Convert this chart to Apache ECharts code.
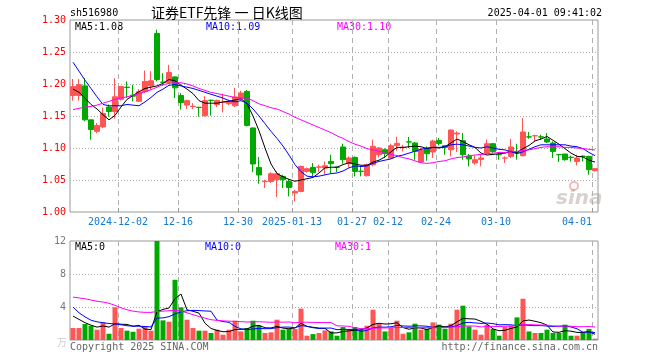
<!DOCTYPE html>
<html><head><meta charset="utf-8">
<script src="https://cdn.jsdelivr.net/npm/echarts@6/dist/echarts.min.js"></script>
<style>html,body{margin:0;padding:0;background:#fff}#c{width:660px;height:360px}</style>
</head><body><div id="c"></div>
<script>
const dates = ['2024-11-20','2024-11-21','2024-11-22','2024-11-25','2024-11-26','2024-11-27','2024-11-28','2024-11-29','2024-12-02','2024-12-03','2024-12-04','2024-12-05','2024-12-06','2024-12-09','2024-12-10','2024-12-11','2024-12-12','2024-12-13','2024-12-16','2024-12-17','2024-12-18','2024-12-19','2024-12-20','2024-12-23','2024-12-24','2024-12-25','2024-12-26','2024-12-27','2024-12-30','2024-12-31','2025-01-02','2025-01-03','2025-01-06','2025-01-07','2025-01-08','2025-01-09','2025-01-10','2025-01-13','2025-01-14','2025-01-15','2025-01-16','2025-01-17','2025-01-20','2025-01-21','2025-01-22','2025-01-23','2025-01-24','2025-01-27','2025-02-05','2025-02-06','2025-02-07','2025-02-10','2025-02-11','2025-02-12','2025-02-13','2025-02-14','2025-02-17','2025-02-18','2025-02-19','2025-02-20','2025-02-21','2025-02-24','2025-02-25','2025-02-26','2025-02-27','2025-02-28','2025-03-03','2025-03-04','2025-03-05','2025-03-06','2025-03-07','2025-03-10','2025-03-11','2025-03-12','2025-03-13','2025-03-14','2025-03-17','2025-03-18','2025-03-19','2025-03-20','2025-03-21','2025-03-24','2025-03-25','2025-03-26','2025-03-27','2025-03-28','2025-03-31','2025-04-01'];

const opens  = [1.182,1.182,1.197,1.144,1.126,1.133,1.164,1.157,1.176,1.195,1.1825,1.173,1.188,1.197,1.279,1.203,1.2025,1.211,1.182,1.167,1.1648,1.1636,1.1505,1.1746,1.1677,1.171,1.1692,1.166,1.177,1.1884,1.1313,1.0697,1.0475,1.0478,1.0505,1.0556,1.0478,1.0297,1.0322,1.0634,1.0697,1.070,1.0687,1.079,1.0698,1.1016,1.0755,1.0853,1.0637,1.0567,1.0739,1.0895,1.0973,1.0844,1.104,1.1007,1.1096,1.1078,1.0781,1.0989,1.0938,1.1119,1.1036,1.0973,1.1219,1.1114,1.0869,1.0766,1.0822,1.0922,1.1067,1.0897,1.0842,1.0869,1.0933,1.088,1.1174,1.119,1.1174,1.1141,1.1078,1.0897,1.0906,1.0855,1.079,1.0871,1.0869,1.0645];
const closes = [1.196,1.199,1.144,1.129,1.135,1.154,1.157,1.180,1.196,1.1945,1.181,1.188,1.204,1.205,1.207,1.2025,1.218,1.194,1.171,1.174,1.1652,1.1632,1.174,1.1743,1.1744,1.1715,1.1728,1.1797,1.1859,1.1353,1.075,1.0578,1.048,1.0598,1.0598,1.0505,1.0384,1.0322,1.0713,1.0677,1.0619,1.0705,1.0723,1.0755,1.0697,1.0817,1.0844,1.0634,1.0634,1.0739,1.1025,1.100,1.0911,1.1036,1.1072,1.101,1.1093,1.0947,1.0973,1.0911,1.1109,1.1072,1.101,1.1281,1.1234,1.0895,1.0828,1.0817,1.0844,1.1067,1.0947,1.0895,1.0844,1.1016,1.0931,1.125,1.1172,1.1192,1.1172,1.1094,1.0947,1.0895,1.0817,1.0853,1.0844,1.0869,1.0661,1.0677];
const lows   = [1.174,1.174,1.142,1.113,1.123,1.131,1.149,1.146,1.174,1.178,1.173,1.172,1.186,1.191,1.204,1.197,1.2016,1.178,1.160,1.161,1.161,1.149,1.149,1.1505,1.164,1.1556,1.167,1.164,1.1755,1.1337,1.062,1.0442,1.0375,1.0453,1.0234,1.0375,1.0244,1.0166,1.031,1.0615,1.0556,1.0625,1.0583,1.061,1.0625,1.0755,1.0697,1.0556,1.0556,1.0556,1.0713,1.085,1.085,1.0833,1.0958,1.0947,1.100,1.0817,1.0766,1.0802,1.0844,1.104,1.0895,1.0869,1.0938,1.0817,1.0713,1.0739,1.0713,1.0895,1.0922,1.0817,1.0766,1.0844,1.0817,1.0869,1.1145,1.1103,1.113,1.1078,1.0844,1.0781,1.0802,1.079,1.0728,1.079,1.0583,1.0634];
const highs  = [1.208,1.208,1.209,1.144,1.139,1.163,1.168,1.209,1.197,1.204,1.199,1.192,1.221,1.220,1.285,1.217,1.230,1.212,1.186,1.1755,1.170,1.1643,1.181,1.1755,1.1755,1.185,1.1755,1.194,1.1895,1.1906,1.132,1.086,1.0505,1.062,1.0634,1.0583,1.0516,1.0348,1.0725,1.0695,1.0766,1.074,1.079,1.0895,1.071,1.1067,1.087,1.0869,1.0713,1.0755,1.113,1.1016,1.0995,1.1067,1.1177,1.105,1.1172,1.1094,1.100,1.1025,1.113,1.1156,1.104,1.1291,1.126,1.1234,1.0906,1.0884,1.0895,1.113,1.1078,1.0922,1.0869,1.1141,1.1067,1.1469,1.125,1.1208,1.1208,1.1234,1.1103,1.0906,1.0906,1.088,1.0895,1.0884,1.088,1.0677];

const ma5  = [1.192,1.187,1.178,1.168,1.161,1.152,1.144,1.151,1.164,1.176,1.182,1.188,1.193,1.195,1.197,1.201,1.207,1.205,1.198,1.192,1.185,1.174,1.170,1.170,1.170,1.172,1.173,1.175,1.177,1.169,1.150,1.127,1.100,1.075,1.060,1.055,1.051,1.048,1.050,1.052,1.054,1.061,1.069,1.070,1.070,1.074,1.077,1.075,1.073,1.073,1.078,1.081,1.086,1.094,1.101,1.101,1.102,1.103,1.102,1.099,1.101,1.100,1.102,1.108,1.114,1.110,1.105,1.101,1.092,1.089,1.090,1.091,1.092,1.095,1.093,1.099,1.104,1.111,1.114,1.118,1.112,1.106,1.099,1.092,1.087,1.086,1.081,1.078];
const ma10 = [1.234,1.220,1.206,1.193,1.180,1.168,1.166,1.166,1.166,1.168,1.167,1.166,1.172,1.179,1.187,1.192,1.198,1.199,1.197,1.195,1.193,1.190,1.187,1.184,1.181,1.178,1.174,1.172,1.174,1.170,1.161,1.150,1.138,1.126,1.115,1.103,1.089,1.074,1.063,1.056,1.055,1.056,1.058,1.060,1.061,1.064,1.069,1.072,1.071,1.072,1.076,1.079,1.081,1.083,1.087,1.089,1.092,1.095,1.098,1.100,1.101,1.101,1.102,1.105,1.106,1.105,1.103,1.101,1.100,1.102,1.100,1.098,1.097,1.094,1.091,1.094,1.098,1.102,1.105,1.105,1.105,1.105,1.105,1.103,1.102,1.099,1.093,1.088];
const ma30 = [1.160,1.162,1.164,1.165,1.167,1.170,1.173,1.176,1.178,1.180,1.182,1.185,1.188,1.191,1.195,1.199,1.201,1.202,1.202,1.200,1.197,1.193,1.190,1.187,1.185,1.183,1.181,1.179,1.178,1.178,1.174,1.169,1.166,1.163,1.161,1.157,1.153,1.148,1.144,1.140,1.136,1.132,1.128,1.124,1.119,1.115,1.110,1.106,1.103,1.099,1.097,1.095,1.092,1.090,1.088,1.085,1.083,1.080,1.077,1.076,1.077,1.079,1.080,1.083,1.085,1.086,1.088,1.089,1.090,1.091,1.092,1.093,1.093,1.094,1.095,1.096,1.097,1.099,1.101,1.102,1.102,1.102,1.101,1.101,1.100,1.099,1.098,1.097];

const volumes = [1.45,1.45,1.94,1.73,1.25,2.13,0.76,3.96,1.45,1.13,1.0,1.37,1.65,1.13,12.0,2.38,2.22,7.3,3.96,2.46,1.45,1.13,1.13,0.85,1.25,0.64,1.25,2.34,1.04,1.45,2.34,1.73,0.85,0.93,2.46,1.25,1.33,1.33,3.8,0.52,0.72,0.85,1.17,1.04,0.52,1.57,1.25,1.57,1.25,1.73,3.67,1.94,1.04,1.45,2.34,0.76,0.93,1.98,1.25,1.37,2.13,1.86,1.37,1.98,3.67,4.16,1.65,1.25,0.64,1.86,1.33,0.52,1.57,1.73,2.74,5.0,1.04,0.85,0.85,1.25,0.85,0.85,1.86,0.52,0.52,0.85,1.33,0.16];
const volMa5  = [2.9,2.5,2.1,1.8,1.56,1.70,1.56,1.97,1.91,1.89,1.66,1.78,1.32,1.26,3.43,3.71,3.88,5.01,5.57,3.66,3.48,3.26,2.03,1.40,1.16,1.00,1.02,1.27,1.30,1.34,1.68,1.78,1.48,1.46,1.66,1.44,1.36,1.46,2.03,1.65,1.54,1.44,1.41,0.86,0.86,1.03,1.11,1.19,1.23,1.47,1.89,2.03,1.93,1.97,2.09,1.51,1.30,1.49,1.45,1.26,1.53,1.72,1.60,1.74,2.20,2.61,2.57,2.54,2.27,1.91,1.35,1.12,1.18,1.40,1.58,2.31,2.42,2.27,2.10,1.80,0.97,0.93,1.13,1.07,0.92,0.92,1.02,0.68];
const volMa10 = [4.0,3.3,2.8,2.4,2.2,2.1,2.0,1.95,1.85,1.73,1.68,1.67,1.64,1.58,2.66,2.68,2.83,3.16,3.41,3.55,3.59,3.57,3.52,3.49,2.41,2.24,2.14,1.65,1.35,1.25,1.34,1.40,1.37,1.38,1.50,1.56,1.57,1.47,1.75,1.65,1.49,1.40,1.44,1.45,1.25,1.29,1.28,1.30,1.05,1.17,1.46,1.57,1.56,1.60,1.78,1.70,1.67,1.71,1.71,1.67,1.52,1.51,1.54,1.60,1.73,2.07,2.14,2.07,2.01,2.06,1.98,1.84,1.86,1.84,1.75,1.83,1.77,1.73,1.75,1.69,1.64,1.67,1.70,1.58,1.36,0.94,0.97,0.90];
const volMa30 = [5.2,5.1,5.0,4.85,4.7,4.6,4.45,4.2,3.9,3.67,3.5,3.4,3.35,3.35,3.45,3.5,3.55,3.6,3.5,3.3,3.07,2.85,2.65,2.46,2.38,2.32,2.28,2.26,2.22,2.18,2.20,2.21,2.18,2.15,2.19,2.16,2.18,2.09,2.17,2.15,2.14,2.12,2.11,2.11,1.72,1.70,1.66,1.47,1.38,1.36,1.43,1.46,1.46,1.48,1.51,1.52,1.51,1.49,1.50,1.50,1.49,1.50,1.51,1.55,1.59,1.69,1.70,1.69,1.59,1.63,1.65,1.64,1.66,1.68,1.75,1.87,1.86,1.84,1.82,1.81,1.71,1.68,1.70,1.67,1.61,1.61,1.63,1.57];

const tickDates  = ['2024-12-02','2024-12-16','2024-12-30','2025-01-13','2025-01-27','2025-02-12','2025-02-24','2025-03-10','2025-04-01'];
const tickLabels = ['2024-12-02','12-16','12-30','2025-01-13','01-27','02-12','02-24','03-10','04-01'];
const priceTicks = [1.00, 1.30, 0.05];
const volTicks = [0, 12, 4];
const mainLegend = ['MA5:1.08','MA10:1.09','MA30:1.10'];
const volLegend = ['MA5:0','MA10:0','MA30:1'];

const RED = '#ff5555', GREEN = '#00a800';
const MONO = 'DejaVu Sans Mono';
const tickIdx = new Set(tickDates.map(d => dates.indexOf(d)));
const labelOf = {};
tickDates.forEach((d, i) => labelOf[d] = tickLabels[i]);
const edgeData = dates.map(d => d === tickDates[tickDates.length-1] ? {value: d, textStyle: {align: 'right'}} : d).concat(['']);
const showTick = (i) => tickIdx.has(i);

const ohlc = dates.map((d, i) => [opens[i], closes[i], lows[i], highs[i]]);

const chart = echarts.init(document.getElementById('c'), null, {renderer: 'canvas'});
const grayLine = {color: '#aaaaaa', width: 1};
const txt = (text, x, y, fill, font, align) => ({type: 'text', x: x, y: y, silent: true, style: {text: text, fill: fill, font: font, align: align || 'left', verticalAlign: 'middle'}});

chart.setOption({
  animation: false,
  backgroundColor: '#ffffff',
  grid: [
    {left: 70, top: 20, width: 528, height: 192, show: true, borderColor: '#999', borderWidth: 1},
    {left: 70, top: 241, width: 528, height: 99, show: true, borderColor: '#999', borderWidth: 1}
  ],
  xAxis: [
    {type: 'category', gridIndex: 0, data: dates, boundaryGap: true, show: false},
    {type: 'category', gridIndex: 0, data: edgeData, boundaryGap: false, position: 'bottom',
      axisLine: {show: false},
      axisTick: {show: true, inside: true, length: 4, interval: showTick, lineStyle: {color: '#999'}},
      axisLabel: {interval: showTick, formatter: v => labelOf[v] || '', color: '#1479d0', fontSize: 10, fontFamily: MONO, margin: 5},
      splitLine: {show: true, interval: showTick, lineStyle: {color: '#b0b0b0', width: 1, type: [5, 4]}}},
    {type: 'category', gridIndex: 1, data: dates, boundaryGap: true, show: false},
    {type: 'category', gridIndex: 1, data: edgeData, boundaryGap: false,
      axisLine: {show: false}, axisTick: {show: false}, axisLabel: {show: false},
      splitLine: {show: true, interval: showTick, lineStyle: {color: '#b0b0b0', width: 1, type: [5, 4]}}}
  ],
  yAxis: [
    {type: 'value', gridIndex: 0, min: priceTicks[0], max: priceTicks[1], interval: priceTicks[2],
      axisLine: {show: false}, axisTick: {show: false},
      axisLabel: {formatter: v => v.toFixed(2), color: '#ff0000', fontSize: 10, fontFamily: MONO, margin: 4},
      splitLine: {show: true, showMinLine: false, showMaxLine: false, lineStyle: {color: '#aaa', width: 1, type: [1, 2]}}},
    {type: 'value', gridIndex: 1, min: volTicks[0], max: volTicks[1], interval: volTicks[2],
      axisLine: {show: false}, axisTick: {show: false},
      axisLabel: {formatter: v => v === 0 ? '' : String(v), color: '#777', fontSize: 10, fontFamily: MONO, margin: 4},
      splitLine: {show: true, showMinLine: false, showMaxLine: false, lineStyle: {color: '#aaa', width: 1, type: [1, 2]}}}
  ],
  series: [
    {type: 'candlestick', xAxisIndex: 0, yAxisIndex: 0, data: ohlc, barWidth: 5,
      itemStyle: {color: RED, color0: GREEN, borderColor: RED, borderColor0: GREEN, borderWidth: 1}},
    {type: 'line', xAxisIndex: 0, yAxisIndex: 0, data: ma5, symbol: 'none', lineStyle: {color: '#000', width: 1}},
    {type: 'line', xAxisIndex: 0, yAxisIndex: 0, data: ma10, symbol: 'none', lineStyle: {color: '#0000ff', width: 1}},
    {type: 'line', xAxisIndex: 0, yAxisIndex: 0, data: ma30, symbol: 'none', lineStyle: {color: '#ff00ff', width: 1}},
    {type: 'bar', xAxisIndex: 2, yAxisIndex: 1, data: volumes, barWidth: 5,
      itemStyle: {color: p => closes[p.dataIndex] >= opens[p.dataIndex] ? RED : GREEN}},
    {type: 'line', xAxisIndex: 2, yAxisIndex: 1, data: volMa5, symbol: 'none', lineStyle: {color: '#000', width: 1}},
    {type: 'line', xAxisIndex: 2, yAxisIndex: 1, data: volMa10, symbol: 'none', lineStyle: {color: '#0000ff', width: 1}},
    {type: 'line', xAxisIndex: 2, yAxisIndex: 1, data: volMa30, symbol: 'none', lineStyle: {color: '#ff00ff', width: 1}}
  ],
  graphic: [
    txt('sh516980', 70, 13, '#000', '10px ' + MONO),
    txt('证券ETF先锋 一 日K线图', 151, 13, '#000', '14px "Noto Sans CJK SC"'),
    txt('2025-04-01 09:41:02', 602, 13, '#000', '10px ' + MONO, 'right'),
    txt(mainLegend[0], 75, 27, '#000', '10px ' + MONO),
    txt(mainLegend[1], 206, 27, '#0000ff', '10px ' + MONO),
    txt(mainLegend[2], 337, 27, '#ff00ff', '10px ' + MONO),
    txt(volLegend[0], 75, 247, '#000', '10px ' + MONO),
    txt(volLegend[1], 205, 247, '#0000ff', '10px ' + MONO),
    txt(volLegend[2], 335, 247, '#ff00ff', '10px ' + MONO),
    txt('万', 57, 342, '#cccccc', '10px "Noto Sans CJK SC"'),
    txt('Copyright 2025 SINA.COM', 70, 347, '#666', '10px ' + MONO),
    txt('http://finance.sina.com.cn', 598, 347, '#666', '10px ' + MONO, 'right'),
    {type: 'text', x: 556, y: 199, silent: true, z: 0, style: {text: 'sina', fill: 'rgba(170,150,150,0.45)', font: 'italic bold 20px "DejaVu Sans"', align: 'left', verticalAlign: 'middle'}},
    {type: 'circle', silent: true, z: 0, shape: {cx: 574, cy: 186, r: 4}, style: {fill: 'none', stroke: 'rgba(230,120,120,0.5)', lineWidth: 2}}
  ]
});
</script></body></html>
